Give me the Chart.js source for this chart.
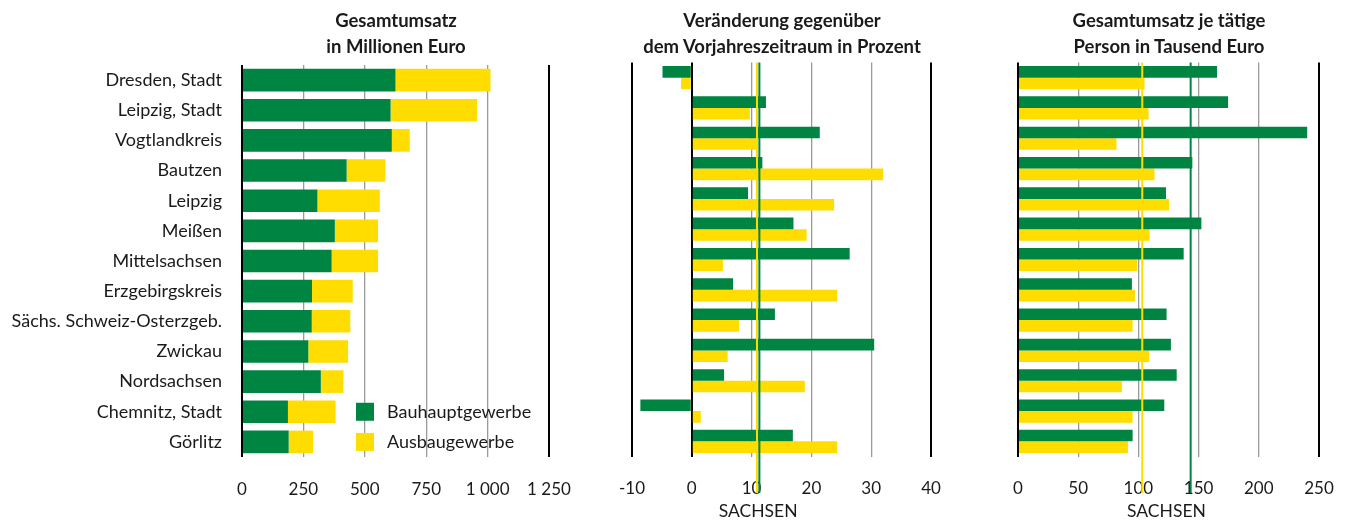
<!DOCTYPE html>
<html><head><meta charset="utf-8">
<script src="https://cdn.jsdelivr.net/npm/chart.js@4"></script>
<style>
html,body{margin:0;padding:0;background:#fff;}
#wrap{position:relative;width:1349px;height:522px;overflow:hidden;font-family:Lato,"Open Sans",sans-serif;color:#1a1a1a;}
canvas{position:absolute;top:0;}
.title{position:absolute;top:7px;font-weight:bold;font-size:18.5px;line-height:26px;text-align:center;white-space:nowrap;transform:translateX(-50%);}
</style></head>
<body><div id="wrap">
<canvas id="c1" width="590" height="522" style="left:0;width:590px;height:522px"></canvas>
<canvas id="c2" width="380" height="522" style="left:590px;width:380px;height:522px"></canvas>
<canvas id="c3" width="379" height="522" style="left:970px;width:379px;height:522px"></canvas>
<div class="title" style="left:396px">Gesamtumsatz<br>in Millionen Euro</div>
<div class="title" style="left:782px">Veränderung gegenüber<br>dem Vorjahreszeitraum in Prozent</div>
<div class="title" style="left:1169px">Gesamtumsatz je tätige<br>Person in Tausend Euro</div>
</div>
<script>
// ---- data ----
const categories = ['Dresden, Stadt','Leipzig, Stadt','Vogtlandkreis','Bautzen','Leipzig','Meißen','Mittelsachsen','Erzgebirgskreis','Sächs. Schweiz-Osterzgeb.','Zwickau','Nordsachsen','Chemnitz, Stadt','Görlitz'];
const seriesNames = ['Bauhauptgewerbe','Ausbaugewerbe'];
// Gesamtumsatz in Mio. Euro
const umsatzBau    = [625, 605, 610, 426, 307, 378, 365, 285, 284, 270, 321, 187, 190];
const umsatzAusbau = [387, 352,  73, 158, 254, 176, 189, 166, 157, 162,  92, 194,  99];
// Veränderung gegenüber Vorjahreszeitraum in %
const changeBau    = [-4.9, 12.4, 21.4, 11.8,  9.4, 17.0, 26.4,  6.9, 13.9, 30.5,  5.4, -8.6, 16.9];
const changeAusbau = [-1.8,  9.7, 11.0, 32.0, 23.8, 19.2,  5.2, 24.3,  7.9,  6.0, 18.9,  1.5, 24.3];
// Gesamtumsatz je tätige Person in Tsd. Euro
const perPersonBau    = [165.3, 174.5, 240.2, 144.8, 122.9, 152.3, 137.6,  94.6, 123.4, 127.0, 131.8, 121.5,  95.2];
const perPersonAusbau = [105.1, 108.4,  81.8, 113.4, 125.4, 109.3,  98.8,  97.1,  95.2, 109.0,  86.3,  95.2,  91.3];
// Sachsen reference values [Bauhauptgewerbe, Ausbaugewerbe]
const sachsenChange    = [11.3, 10.9];
const sachsenPerPerson = [143.4, 103.2];
const sachsenLabel = 'SACHSEN';
// tick labels
const ticksUmsatz    = ['0','250','500','750','1 000','1 250'];
const ticksChange    = ['-10','0','10','20','30','40'];
const ticksPerPerson = ['0','50','100','150','200','250'];

// ---- styles ----
const GREEN = '#008442';
const YELLOW = '#FFDD00';
const FONT = 'Lato, "Open Sans", sans-serif';
const TXT = '#1a1a1a';
Chart.defaults.font.family = FONT;
Chart.defaults.color = TXT;
Chart.defaults.animation = false;

function isBlack(v, min, max, blackVals){ return v === min || v === max || blackVals.includes(v); }
function xScale(min, max, step, labels, blackVals, bottom){
  return {
    type:'linear', min, max,
    afterFit: s => { s.height = bottom; s.paddingLeft = 0; s.paddingRight = 0; },
    border:{display:false},
    grid:{drawTicks:false,
      color: c => isBlack(c.tick && c.tick.value, min, max, blackVals) ? '#000' : '#9a9a9a',
      lineWidth: c => isBlack(c.tick && c.tick.value, min, max, blackVals) ? 2 : 1.3},
    ticks:{stepSize:step, padding:22, font:{size:17}, color:TXT, maxRotation:0,
      callback:(v,i)=>labels[i]}
  };
}

const sachsenPlugin = {
  id:'sachsen',
  afterDatasetsDraw(chart, args, opts){
    if(!opts.values) return;
    const {ctx, chartArea} = chart;
    const x = chart.scales.x;
    const xg = x.getPixelForValue(opts.values[0]);
    const xy = x.getPixelForValue(opts.values[1]);
    ctx.save();
    ctx.lineWidth = 2;
    ctx.strokeStyle = YELLOW;
    ctx.beginPath(); ctx.moveTo(xy, chartArea.top); ctx.lineTo(xy, 493); ctx.stroke();
    ctx.strokeStyle = GREEN;
    ctx.beginPath(); ctx.moveTo(xg, chartArea.top); ctx.lineTo(xg, 493); ctx.stroke();
    ctx.fillStyle = TXT;
    ctx.font = '17.5px ' + FONT;
    ctx.textAlign = 'center'; ctx.textBaseline = 'middle';
    ctx.fillText(sachsenLabel, (xg+xy)/2, 511);
    ctx.restore();
  }
};

const legendPlugin = {
  id:'customLegend',
  afterDraw(chart, args, opts){
    if(!opts.show) return;
    const {ctx} = chart;
    const y = chart.scales.y;
    const left = chart.chartArea.left + 114;
    const rows = [[seriesNames[0], GREEN, y.getPixelForValue(11)], [seriesNames[1], YELLOW, y.getPixelForValue(12)]];
    ctx.save();
    ctx.font = '18px ' + FONT;
    ctx.textBaseline = 'middle'; ctx.textAlign = 'left';
    rows.forEach(([name, col, cy]) => {
      ctx.fillStyle = col;
      ctx.fillRect(left, cy - 9, 18, 18);
      ctx.fillStyle = TXT;
      ctx.fillText(name, left + 31, cy);
    });
    ctx.restore();
  }
};

// Panel 1
new Chart(document.getElementById('c1'), {
  type:'bar',
  data:{labels:categories, datasets:[
    {label:seriesNames[0], data:umsatzBau, backgroundColor:GREEN, stack:'s'},
    {label:seriesNames[1], data:umsatzAusbau, backgroundColor:YELLOW, stack:'s'}
  ]},
  options:{
    indexAxis:'y', responsive:false,
    categoryPercentage:0.75, barPercentage:1,
    layout:{padding:{left:0,right:41,top:65,bottom:0}},
    plugins:{legend:{display:false}, tooltip:{enabled:false}, customLegend:{show:true}},
    scales:{
      x: Object.assign(xScale(0,1250,250,ticksUmsatz,[],65), {stacked:true}),
      y:{stacked:true, afterFit:s=>{s.width=242;}, border:{display:false}, grid:{display:false},
         ticks:{font:{size:18}, color:TXT, padding:12}}
    }
  },
  plugins:[legendPlugin]
});

// Panel 2
new Chart(document.getElementById('c2'), {
  type:'bar',
  data:{labels:categories, datasets:[
    {label:seriesNames[0], data:changeBau, backgroundColor:GREEN},
    {label:seriesNames[1], data:changeAusbau, backgroundColor:YELLOW}
  ]},
  options:{
    indexAxis:'y', responsive:false,
    categoryPercentage:0.765, barPercentage:1,
    layout:{padding:{left:42,right:39,top:62.5,bottom:0}},
    plugins:{legend:{display:false}, tooltip:{enabled:false}, sachsen:{values:sachsenChange}},
    scales:{
      x: xScale(-10,40,10,ticksChange,[0],65.5),
      y:{display:false}
    }
  },
  plugins:[sachsenPlugin]
});

// Panel 3
new Chart(document.getElementById('c3'), {
  type:'bar',
  data:{labels:categories, datasets:[
    {label:seriesNames[0], data:perPersonBau, backgroundColor:GREEN},
    {label:seriesNames[1], data:perPersonAusbau, backgroundColor:YELLOW}
  ]},
  options:{
    indexAxis:'y', responsive:false,
    categoryPercentage:0.765, barPercentage:1,
    layout:{padding:{left:48,right:30,top:62.5,bottom:0}},
    plugins:{legend:{display:false}, tooltip:{enabled:false}, sachsen:{values:sachsenPerPerson}},
    scales:{
      x: xScale(0,250,50,ticksPerPerson,[],65.5),
      y:{display:false}
    }
  },
  plugins:[sachsenPlugin]
});
</script>
</body></html>
